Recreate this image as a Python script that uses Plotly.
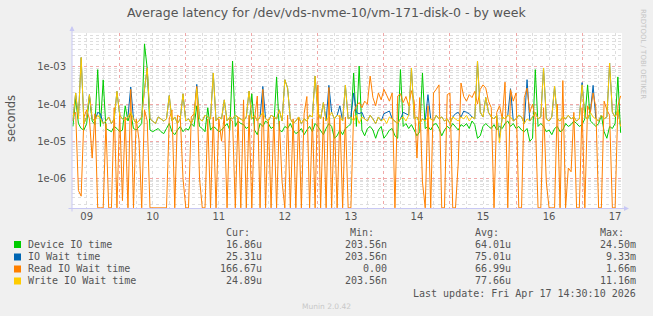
import numpy as np
import pandas as pd
import plotly.graph_objects as go

# ---------------- data (values in microseconds, hourly averages) ----------------
start_time = "2026-04-09 07:00"
n_points = 200

device_us = [
    25, 140, 30, 22, 20, 30, 160, 35, 28, 850,
    25, 450, 22, 20, 18, 25, 22, 18, 20, 90,
    35, 60, 22, 20, 25, 30, 4200, 900, 20, 18,
    20, 22, 18, 16, 22, 30, 18, 15, 20, 25,
    18, 22, 20, 30, 25, 90, 25, 22, 18, 80,
    20, 25, 22, 18, 20, 25, 30, 20, 1450, 25,
    35, 30, 28, 22, 25, 190, 20, 15, 30, 25,
    35, 30, 22, 25, 540, 20, 18, 25, 22, 30,
    20, 16, 18, 22, 15, 20, 25, 18, 30, 25,
    20, 15, 22, 30, 25, 12, 14, 20, 15, 22,
    25, 30, 690, 25, 1060, 20, 14, 22, 25, 20,
    12, 20, 25, 12, 15, 20, 22, 14, 12, 850,
    25, 30, 22, 28, 20, 14, 18, 690, 22, 25,
    20, 28, 30, 22, 14, 20, 25, 22, 30, 25,
    20, 28, 25, 30, 22, 35, 28, 12, 14, 25,
    30, 25, 22, 28, 20, 25, 22, 30, 35, 25,
    30, 22, 25, 20, 18, 22, 10, 12, 850, 25,
    30, 25, 18, 20, 15, 22, 25, 18, 20, 30,
    25, 28, 35, 30, 25, 28, 40, 330, 35, 30,
    25, 30, 50, 18, 12, 25, 22, 30, 540, 16.86,
]

iowait_us = [
    35, 200, 40, 1800, 30, 45, 180, 40, 35, 60,
    55, 30, 35, 45, 30, 40, 220, 50, 40, 35,
    45, 290, 40, 30, 35, 45, 250, 950, 40, 35,
    30, 45, 40, 35, 40, 170, 35, 45, 30, 40,
    190, 35, 40, 30, 45, 340, 40, 35, 50, 45,
    40, 690, 35, 45, 40, 130, 35, 45, 40, 50,
    45, 40, 35, 45, 225, 40, 50, 35, 45, 300,
    40, 35, 50, 45, 40, 70, 35, 455, 270, 40,
    30, 35, 45, 30, 40, 35, 50, 45, 570, 60,
    40, 110, 35, 320, 60, 40, 50, 90, 35, 325,
    40, 45, 200, 60, 55, 60, 40, 35, 50, 40,
    30, 45, 35, 55, 60, 65, 40, 35, 30, 40,
    60, 55, 50, 940, 40, 45, 30, 40, 35, 180,
    40, 35, 50, 40, 45, 35, 40, 30, 45, 55,
    60, 45, 65, 60, 55, 45, 40, 1450, 60, 45,
    150, 60, 45, 40, 50, 12, 45, 40, 50, 260,
    35, 40, 50, 45, 30, 455, 35, 45, 60, 40,
    45, 940, 40, 35, 45, 305, 40, 35, 45, 40,
    50, 40, 45, 35, 40, 380, 45, 40, 60, 320,
    40, 35, 50, 40, 45, 1280, 60, 45, 70, 25.31,
]

read_us = [
    50, 60, 0.47, 0.33, 45, 70, 40, 3.5, 55, 0,
    0, 0, 30, 0, 0, 80, 0, 60, 0.25, 45,
    0, 250, 0, 40, 11, 0, 70, 35, 0, 0,
    0, 0, 0, 0, 0, 40, 70, 0, 50, 45,
    1, 0, 0, 45, 55, 300, 1, 0, 0, 40,
    0, 45, 0, 40, 10, 50, 0, 40, 35, 0,
    45, 0, 130, 0, 50, 0, 40, 165, 0, 250,
    0, 40, 0, 45, 0, 35, 0.8, 0, 50, 0,
    40, 0, 45, 0, 55, 160, 0, 40, 0, 330,
    0, 45, 0, 280, 0, 40, 0, 50, 0, 45,
    0, 0, 60, 90, 110, 80, 120, 100, 570, 150,
    90, 200, 130, 250, 180, 120, 200, 0, 165, 190,
    110, 160, 90, 230, 120, 3.5, 150, 0.8, 0, 90,
    0, 200, 250, 330, 0, 0, 180, 200, 0, 0,
    2.6, 370, 160, 120, 180, 150, 220, 100, 250, 330,
    270, 120, 80, 0, 60, 90, 40, 390, 0, 245,
    120, 200, 0, 0, 150, 270, 60, 100, 40, 0,
    0, 80, 0.8, 0, 0, 0, 100, 0, 430, 0,
    1.9, 1.5, 60, 0, 0, 80, 0, 90, 60, 200,
    80, 0, 0, 120, 70, 50, 0, 0, 90, 166.67,
]

write_us = [
    35, 200, 40, 1800, 30, 45, 180, 40, 35, 50,
    40, 30, 35, 45, 30, 40, 220, 50, 40, 35,
    45, 60, 40, 30, 35, 45, 250, 950, 40, 35,
    30, 45, 40, 35, 40, 170, 35, 45, 30, 40,
    190, 35, 40, 30, 45, 260, 40, 35, 50, 45,
    40, 690, 35, 45, 40, 130, 35, 45, 40, 50,
    45, 40, 35, 45, 225, 40, 50, 35, 45, 60,
    40, 35, 50, 45, 40, 70, 35, 455, 270, 40,
    30, 35, 45, 30, 40, 35, 50, 45, 570, 60,
    40, 110, 35, 45, 60, 40, 50, 45, 35, 325,
    40, 45, 35, 50, 30, 45, 40, 35, 50, 40,
    30, 45, 35, 40, 30, 45, 40, 35, 30, 40,
    45, 35, 50, 940, 40, 45, 30, 40, 35, 45,
    40, 35, 50, 40, 45, 35, 40, 30, 45, 40,
    35, 45, 40, 50, 35, 45, 40, 1450, 60, 45,
    150, 60, 45, 40, 50, 9, 45, 40, 50, 45,
    35, 40, 50, 45, 30, 40, 35, 45, 60, 40,
    45, 940, 40, 35, 45, 305, 40, 35, 45, 40,
    50, 40, 45, 35, 40, 330, 45, 40, 60, 45,
    40, 35, 50, 40, 45, 1280, 60, 45, 70, 24.89,
]

series_names = ["Device IO time", "IO Wait time", "Read IO Wait time", "Write IO Wait time"]
series_colors = ["#00cc00", "#0066b3", "#ff8000", "#ffcc00"]
cur_txt = ["16.86u", "25.31u", "166.67u", "24.89u"]
min_txt = ["203.56n", "203.56n", "0.00", "203.56n"]
avg_txt = ["64.01u", "75.01u", "66.99u", "77.66u"]
max_txt = ["24.50m", "9.33m", "1.66m", "11.16m"]

day_labels = ["09", "10", "11", "12", "13", "14", "15", "16", "17"]
y_tick_vals = [1e-6, 1e-5, 1e-4, 1e-3]
y_tick_text = ["1e-06", "1e-05", "1e-04", "1e-03"]

title_text = "Average latency for /dev/vds-nvme-10/vm-171-disk-0 - by week"
last_update = "Last update: Fri Apr 17 14:30:10 2026"

# ---------------- geometry ----------------
W, H = 653, 316
L, R, T, B = 72, 31, 33, 108
PW, PH = W - L - R, H - T - B
YMIN, YMAX = -6.80, -2.084
X0, X1 = pd.Timestamp("2026-04-09 06:40"), pd.Timestamp("2026-04-17 14:30")


def px(x):
    return (x - L) / PW


def py(y):
    return (H - B - y) / PH


times = pd.date_range(start_time, periods=n_points, freq="h")
floor_val = 10 ** (YMIN + 0.004)

fig = go.Figure()
for name, vals, col in zip(series_names, [device_us, iowait_us, read_us, write_us], series_colors):
    v = np.array(vals, dtype=float) * 1e-6
    v = np.where(v <= 0, floor_val, v)
    fig.add_trace(go.Scatter(x=times, y=v, mode="lines", name=name,
                             line=dict(color=col, width=1), showlegend=False,
                             hoverinfo="skip"))

# empty trace to activate the label overlay axis
fig.add_trace(go.Scatter(x=[], y=[], xaxis="x2", yaxis="y", showlegend=False))

noons = [pd.Timestamp("2026-04-09 12:00") + pd.Timedelta(days=i) for i in range(len(day_labels))]
midnights = [pd.Timestamp("2026-04-10") + pd.Timedelta(days=i) for i in range(8)]

tickfont = dict(family="DejaVu Sans", size=10, color="#555555")
mono = dict(family="DejaVu Sans Mono", size=10, color="#555555")
MINOR_GRID = "#dedede"
MAJOR_GRID = "#f0a8a8"

fig.update_layout(
    width=W, height=H, autosize=False,
    margin=dict(l=L, r=R, t=T, b=B, pad=0),
    paper_bgcolor="#f0f0f0", plot_bgcolor="#ffffff",
    xaxis=dict(type="date", range=[X0, X1], tickmode="array", tickvals=midnights,
               showticklabels=False, showgrid=True, gridcolor=MAJOR_GRID, griddash="dot",
               gridwidth=1, zeroline=False, showline=False, ticks="", automargin=False,
               minor=dict(dtick=6 * 3600 * 1000, tick0="2026-04-09 00:00", showgrid=True,
                          gridcolor=MINOR_GRID, griddash="dot", gridwidth=1, ticks="")),
    xaxis2=dict(type="date", overlaying="x", matches="x", anchor="y", side="bottom",
                tickmode="array", tickvals=noons, ticktext=day_labels, showgrid=False,
                ticks="", tickfont=tickfont, ticklabelstandoff=1,
                zeroline=False, showline=False, automargin=False),
    yaxis=dict(type="log", range=[YMIN, YMAX], tickmode="array", tickvals=y_tick_vals,
               ticktext=y_tick_text, showgrid=True, gridcolor=MAJOR_GRID, griddash="dot",
               gridwidth=1, zeroline=False, showline=False, ticks="", tickfont=tickfont,
               automargin=False, ticklabelstandoff=5,
               minor=dict(dtick="D1", showgrid=True, gridcolor=MINOR_GRID, griddash="dot",
                          gridwidth=1, ticks="")),
)

ann = []
ann.append(dict(text=title_text, x=px(326), y=py(13), xref="paper", yref="paper",
                showarrow=False, xanchor="center", yanchor="middle",
                font=dict(family="DejaVu Sans", size=12.5, color="#555555")))
ann.append(dict(text="seconds", x=px(11), y=py(119), xref="paper", yref="paper",
                showarrow=False, textangle=-90, xanchor="center", yanchor="middle",
                font=dict(family="DejaVu Sans", size=11.5, color="#555555")))
ann.append(dict(text="RRDTOOL / TOBI OETIKER", x=px(643), y=py(54), xref="paper", yref="paper",
                showarrow=False, textangle=90, xanchor="center", yanchor="middle",
                font=dict(family="DejaVu Sans", size=7, color="#c4c4c4")))

# axis lines with arrows
ann.append(dict(x=px(629), y=py(208.5), xref="paper", yref="paper", ax=-562, ay=0,
                axref="pixel", ayref="pixel", text="", showarrow=True, arrowhead=2,
                arrowsize=1, arrowwidth=1, arrowcolor="#c8c8f4"))
ann.append(dict(x=px(72), y=py(26), xref="paper", yref="paper", ax=0, ay=187,
                axref="pixel", ayref="pixel", text="", showarrow=True, arrowhead=2,
                arrowsize=1, arrowwidth=1, arrowcolor="#c8c8f4"))

# legend block
header_y = 232
for txt, xr in zip(["Cur:", "Min:", "Avg:", "Max:"], [252, 376, 501, 626]):
    ann.append(dict(text=txt, x=px(xr), y=py(header_y), xref="paper", yref="paper",
                    showarrow=False, xanchor="right", yanchor="middle", font=mono))

row_ys = [244, 256.5, 268.5, 280.5]
shapes = []
for i, name in enumerate(series_names):
    ry = row_ys[i]
    shapes.append(dict(type="rect", xref="paper", yref="paper",
                       x0=px(14), x1=px(21), y0=py(ry + 4), y1=py(ry - 3),
                       fillcolor=series_colors[i], line=dict(width=0)))
    ann.append(dict(text=name, x=px(26), y=py(ry), xref="paper", yref="paper",
                    showarrow=False, xanchor="left", yanchor="middle", font=mono))
    for txt, xr in zip([cur_txt[i], min_txt[i], avg_txt[i], max_txt[i]], [264, 389, 513, 638]):
        ann.append(dict(text=txt, x=px(xr), y=py(ry), xref="paper", yref="paper",
                        showarrow=False, xanchor="right", yanchor="middle", font=mono))

ann.append(dict(text=last_update, x=px(638), y=py(293), xref="paper", yref="paper",
                showarrow=False, xanchor="right", yanchor="middle", font=mono))
ann.append(dict(text="Munin 2.0.42", x=px(326), y=py(306), xref="paper", yref="paper",
                showarrow=False, xanchor="center", yanchor="middle",
                font=dict(family="DejaVu Sans", size=7.5, color="#c8c8c8")))

fig.update_layout(annotations=ann, shapes=shapes)
fig.write_html("out.html")
